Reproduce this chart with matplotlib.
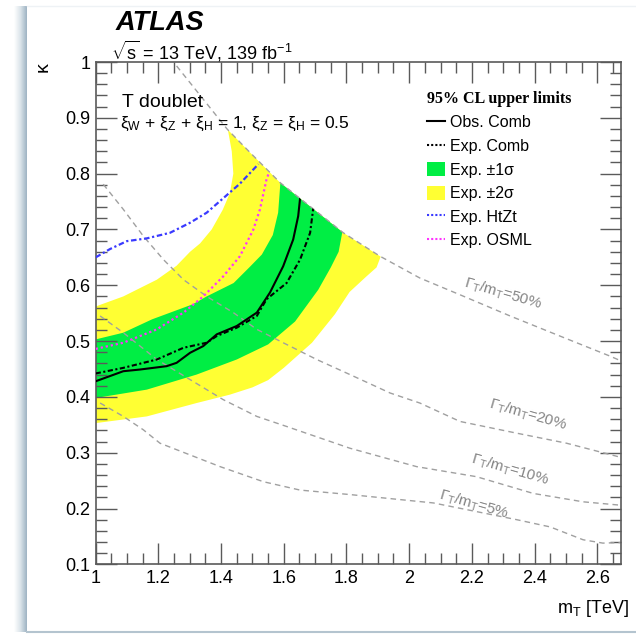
import matplotlib
matplotlib.use('Agg')
import numpy as np
import matplotlib.pyplot as plt
from matplotlib.lines import Line2D
from matplotlib.patches import Patch, Polygon
from matplotlib.ticker import MultipleLocator, FuncFormatter
from matplotlib.colors import LinearSegmentedColormap

plt.rcParams['font.family'] = ['Liberation Sans', 'DejaVu Sans']
plt.rcParams['mathtext.fontset'] = 'custom'
plt.rcParams['mathtext.rm'] = 'Liberation Sans'
plt.rcParams['mathtext.it'] = 'Liberation Sans:italic'
plt.rcParams['mathtext.bf'] = 'Liberation Sans:bold'

# ---- expected band contours (m_T [TeV], kappa) ----
yel_lo_x = [1.0, 1.163, 1.322, 1.428, 1.50, 1.55, 1.60, 1.69, 1.763, 1.81, 1.864, 1.896, 1.915]
yel_lo_k = [0.353, 0.365, 0.389, 0.404, 0.417, 0.430, 0.452, 0.497, 0.548, 0.588, 0.616, 0.632, 0.660]
yel_hi_x = [1.0, 1.088, 1.195, 1.258, 1.301, 1.333, 1.37, 1.405, 1.428, 1.439, 1.434, 1.418]
yel_hi_k = [0.562, 0.580, 0.610, 0.635, 0.660, 0.675, 0.700, 0.735, 0.765, 0.800, 0.840, 0.890]
grn_lo_x = [1.0, 1.163, 1.322, 1.45, 1.55, 1.636, 1.71, 1.75, 1.775, 1.79]
grn_lo_k = [0.398, 0.413, 0.440, 0.467, 0.494, 0.535, 0.592, 0.632, 0.660, 0.705]
grn_hi_x = [1.0, 1.088, 1.18, 1.31, 1.354, 1.44, 1.49, 1.53, 1.565, 1.582, 1.59]
grn_hi_k = [0.503, 0.515, 0.539, 0.566, 0.580, 0.604, 0.632, 0.655, 0.690, 0.730, 0.790]

# ---- limit curves ----
obs_x = [1.0, 1.088, 1.141, 1.226, 1.258, 1.301, 1.343, 1.386, 1.45, 1.514, 1.556, 1.598, 1.63, 1.646, 1.652]
obs_k = [0.428, 0.446, 0.449, 0.455, 0.461, 0.479, 0.491, 0.512, 0.527, 0.551, 0.587, 0.634, 0.682, 0.724, 0.756]
exp_x = [1.0, 1.088, 1.195, 1.28, 1.354, 1.386, 1.45, 1.514, 1.545, 1.609, 1.652, 1.684, 1.694]
exp_k = [0.442, 0.452, 0.467, 0.488, 0.497, 0.509, 0.524, 0.545, 0.575, 0.604, 0.646, 0.694, 0.738]
htzt_x = [1.0, 1.046, 1.099, 1.163, 1.237, 1.301, 1.354, 1.407, 1.46, 1.519]
htzt_k = [0.650, 0.665, 0.679, 0.684, 0.694, 0.712, 0.730, 0.756, 0.782, 0.817]
osml_x = [1.0, 1.088, 1.195, 1.28, 1.343, 1.407, 1.46, 1.503, 1.524, 1.545, 1.553]
osml_k = [0.486, 0.497, 0.521, 0.551, 0.580, 0.616, 0.652, 0.700, 0.736, 0.790, 0.802]

# ---- constant width lines Gamma_T/m_T ----
w50_x = [1.258, 1.419, 1.492, 1.588, 1.79, 1.907, 2.034, 2.162, 2.322, 2.481, 2.641, 2.69]
w50_k = [0.993, 0.880, 0.838, 0.784, 0.694, 0.652, 0.613, 0.583, 0.545, 0.509, 0.473, 0.461]
w20_x = [1.024, 1.088, 1.152, 1.216, 1.28, 1.354, 1.439, 1.514, 1.598, 1.705, 1.811, 1.939, 2.034, 2.162, 2.343, 2.502, 2.68]
w20_k = [0.781, 0.736, 0.688, 0.646, 0.61, 0.58, 0.551, 0.521, 0.497, 0.467, 0.44, 0.407, 0.389, 0.356, 0.335, 0.317, 0.291]
w10_x = [1.014, 1.088, 1.195, 1.301, 1.407, 1.514, 1.609, 1.811, 2.024, 2.215, 2.396, 2.555, 2.673]
w10_k = [0.545, 0.515, 0.467, 0.431, 0.395, 0.365, 0.347, 0.308, 0.275, 0.257, 0.227, 0.212, 0.206]
w5_x = [1.014, 1.088, 1.152, 1.205, 1.397, 1.535, 1.652, 1.811, 2.077, 2.343, 2.45, 2.555, 2.618, 2.675]
w5_k = [0.389, 0.365, 0.341, 0.317, 0.275, 0.248, 0.233, 0.225, 0.21, 0.18, 0.167, 0.144, 0.138, 0.139]

width_lines = [(w50_x, w50_k), (w20_x, w20_k), (w10_x, w10_k), (w5_x, w5_k)]
width_names = ['50%', '20%', '10%', '5%']
width_label_pos = [(2.30, 0.585), (2.378, 0.368), (2.322, 0.270), (2.207, 0.207)]

legend_labels = ['Obs. Comb', 'Exp. Comb', 'Exp. \u00b11\u03c3', 'Exp. \u00b12\u03c3', 'Exp. HtZt', 'Exp. OSML']

YELLOW = '#ffff33'
GREEN = '#00ee44'
GREY = '#a0a0a0'

fig = plt.figure(figsize=(6.36, 6.34), dpi=100)

# page edge shading
bg = fig.add_axes([0, 0, 1, 1], zorder=-5)
bg.set_xlim(0, 636)
bg.set_ylim(634, 0)
bg.axis('off')
shade = LinearSegmentedColormap.from_list('shade', ['#ffffff', '#dbe4ea', '#9fb4c3'])
bg.imshow(np.linspace(0, 1, 40)[None, :], cmap=shade, extent=[14, 27, 632, 6], aspect='auto')
bg.plot([27, 636], [632, 632], color='#b4c4cf', lw=1.5)
bg.plot([27, 636], [5.5, 5.5], color='#eef2f5', lw=1)

ax = fig.add_axes([0.1505, 0.1099, 0.8255, 0.7923])
ax.set_xlim(1.0, 2.675)
ax.set_ylim(0.1, 1.0)

# region allowed by Gamma/m < 50%, everything is clipped to it
clip_verts = [(0.9, 1.2), (w50_x[0], 1.2)] + list(zip(w50_x, w50_k)) + [(3.0, w50_k[-1]), (3.0, 0.0), (0.9, 0.0)]
clip_poly = Polygon(clip_verts, closed=True, transform=ax.transData)

bands = ax.fill(np.r_[yel_lo_x, yel_hi_x[::-1]], np.r_[yel_lo_k, yel_hi_k[::-1]], color=YELLOW, lw=0, zorder=1)
bands += ax.fill(np.r_[grn_lo_x, grn_hi_x[::-1]], np.r_[grn_lo_k, grn_hi_k[::-1]], color=GREEN, lw=0, zorder=1.5)
for b in bands:
    b.set_clip_path(clip_poly)

for (wx, wk) in width_lines:
    ax.plot(wx, wk, color=GREY, lw=1.0, dashes=(4, 3), zorder=2)

label_rot = -16
for name, (lx, ly) in zip(width_names, width_label_pos):
    ax.text(lx, ly, r'$\mathit{\Gamma}_\mathregular{T}$/m$_\mathregular{T}$=' + name,
            color='#858585', fontsize=11, rotation=label_rot, ha='center', va='center',
            rotation_mode='anchor', zorder=2)

lines = []
lines += ax.plot(htzt_x, htzt_k, color='#3a3aff', lw=1.6, ls=(0, (2.5, 1.2, 1, 1.2)), zorder=3)
lines += ax.plot(osml_x, osml_k, color='#ff33ff', lw=1.6, ls=(0, (1, 1.3)), zorder=3)
lines += ax.plot(exp_x, exp_k, color='black', lw=1.5, ls=(0, (2.5, 1.2, 1, 1.2)), zorder=3.5)
lines += ax.plot(obs_x, obs_k, color='black', lw=1.5, zorder=3.5)
for ln in lines:
    ln.set_clip_path(clip_poly)

# axes styling
ax.xaxis.set_major_locator(MultipleLocator(0.2))
ax.xaxis.set_minor_locator(MultipleLocator(0.05))
ax.yaxis.set_major_locator(MultipleLocator(0.1))
ax.yaxis.set_minor_locator(MultipleLocator(0.02))
fmt = FuncFormatter(lambda v, p: '%g' % round(v, 3))
ax.xaxis.set_major_formatter(fmt)
ax.yaxis.set_major_formatter(fmt)
ax.tick_params(which='both', direction='in', top=True, right=True, color='#5a5a5a', width=1.0, labelsize=13)
ax.tick_params(which='major', length=15, pad=4)
ax.tick_params(which='minor', length=8)
for sp in ax.spines.values():
    sp.set_color('#5a5a5a')
    sp.set_linewidth(1.2)

ax.text(-0.1, 1.0, '\u03ba', rotation=90, ha='center', va='top', fontsize=14, transform=ax.transAxes)
ax.text(1.016, -0.087, r'm$_\mathregular{T}$ [TeV]', ha='right', va='center', fontsize=13, transform=ax.transAxes)

# labels
ax.text(0.037, 1.0637, 'ATLAS', fontsize=19.5, fontweight='bold', fontstyle='italic', transform=ax.transAxes)
ax.text(0.030, 1.0056, r'$\sqrt{\mathregular{s}}$ = 13 TeV, 139 fb$^\mathregular{-1}$', fontsize=13, transform=ax.transAxes)
ax.text(0.050, 0.910, 'T doublet', fontsize=14, transform=ax.transAxes)
ax.text(0.046, 0.869, '\u03be$_\mathregular{W}$ + \u03be$_\mathregular{Z}$ + \u03be$_\mathregular{H}$ = 1, '
        '\u03be$_\mathregular{Z}$ = \u03be$_\mathregular{H}$ = 0.5', fontsize=12.5, transform=ax.transAxes)

ax.text(0.631, 0.9178, '95% CL upper limits', fontsize=11.5, fontweight='bold', family='Liberation Serif',
        transform=ax.transAxes)
handles = [
    Line2D([], [], color='black', lw=1.5),
    Line2D([], [], color='black', lw=1.5, ls=(0, (1, 1))),
    Patch(facecolor=GREEN, edgecolor='none'),
    Patch(facecolor=YELLOW, edgecolor='none'),
    Line2D([], [], color='#3a3aff', lw=1.5, ls=(0, (1, 1))),
    Line2D([], [], color='#ff33ff', lw=1.5, ls=(0, (1, 1))),
]
ax.legend(handles, legend_labels, loc='upper left', bbox_to_anchor=(0.631, 0.895), frameon=False,
          fontsize=11.5, handlelength=1.1, handleheight=1.0, handletextpad=0.35, labelspacing=0.5,
          borderaxespad=0, borderpad=0)

fig.savefig('out.png', dpi=100)
